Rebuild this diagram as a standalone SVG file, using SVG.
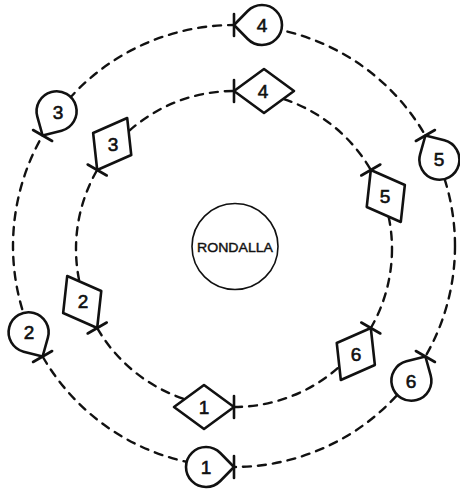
<svg xmlns="http://www.w3.org/2000/svg" xmlns:xlink="http://www.w3.org/1999/xlink" width="460" height="493" viewBox="0 0 460 493">
<style>
.path{fill:none;stroke:#111;stroke-width:2.4;stroke-dasharray:8 7;stroke-linecap:round}
.shape{fill:#fff;stroke:#111;stroke-width:2.6;stroke-linejoin:round}
.tick{fill:none;stroke:#111;stroke-width:2.6;stroke-linecap:round}
.num{font-family:"Liberation Sans",Arial,sans-serif;font-size:19px;font-weight:normal;fill:#111;stroke:#111;stroke-width:0.6;text-anchor:middle}
.lbl{font-family:"Liberation Sans",Arial,sans-serif;font-size:13px;font-weight:normal;fill:#111;stroke:#111;stroke-width:0.4;text-anchor:middle}
</style>
<defs>
<g id="diamond"><path class="shape" d="M0,0 L30,-22 L60,0 L30,22 Z"/><path class="tick" d="M0,-11 V11"/></g>
<g id="tear"><path class="shape" d="M0,0 L13.7,-14 A20,20 0 1 1 13.7,14 Z"/><path class="tick" d="M0,-11 V11"/></g>
</defs>
<rect width="460" height="493" fill="#fff"/>
<g id="connectors">
<circle class="path" cx="234" cy="246" r="221"/>
<circle class="path" cx="234" cy="249" r="158"/>
</g>
<g id="rondalla">
<circle cx="235" cy="246.5" r="43" fill="#fff" stroke="#111" stroke-width="1.6"/>
<text class="lbl" x="235" y="251.5" textLength="76" lengthAdjust="spacingAndGlyphs">RONDALLA</text>
</g>
<g id="outer-4"><use xlink:href="#tear" transform="translate(234,25) rotate(0)"/><text class="num" x="262" y="32">4</text></g>
<g id="outer-5"><use xlink:href="#tear" transform="translate(425.4,135.5) rotate(60)"/><text class="num" x="439" y="166">5</text></g>
<g id="outer-6"><use xlink:href="#tear" transform="translate(425.4,356.5) rotate(120)"/><text class="num" x="411" y="388">6</text></g>
<g id="outer-1"><use xlink:href="#tear" transform="translate(234,467) rotate(180)"/><text class="num" x="206" y="474">1</text></g>
<g id="outer-2"><use xlink:href="#tear" transform="translate(42.6,356.5) rotate(240)"/><text class="num" x="29" y="339">2</text></g>
<g id="outer-3"><use xlink:href="#tear" transform="translate(42.6,135.5) rotate(300)"/><text class="num" x="58" y="119">3</text></g>
<g id="inner-4"><use xlink:href="#diamond" transform="translate(234,91) rotate(0)"/><text class="num" x="263" y="98">4</text></g>
<g id="inner-5"><use xlink:href="#diamond" transform="translate(370.8,170) rotate(60)"/><text class="num" x="385" y="203">5</text></g>
<g id="inner-6"><use xlink:href="#diamond" transform="translate(370.8,328) rotate(120)"/><text class="num" x="356" y="361">6</text></g>
<g id="inner-1"><use xlink:href="#diamond" transform="translate(234,407) rotate(180)"/><text class="num" x="204" y="414">1</text></g>
<g id="inner-2"><use xlink:href="#diamond" transform="translate(97.2,328) rotate(240)"/><text class="num" x="83" y="308">2</text></g>
<g id="inner-3"><use xlink:href="#diamond" transform="translate(97.2,170) rotate(300)"/><text class="num" x="113" y="151">3</text></g>
</svg>
